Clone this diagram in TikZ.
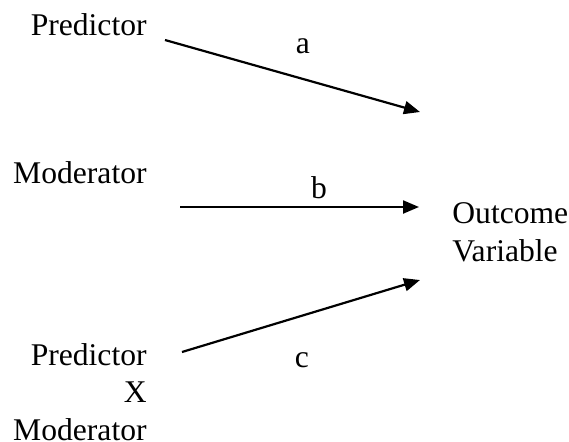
\documentclass[tikz,border=0pt]{standalone}
\usepackage{fontspec}
\setmainfont{Liberation Serif}
\usetikzlibrary{arrows.meta,positioning}
\tikzset{
term/.style={inner sep=0pt,font=\fontsize{15.8}{18.7}\selectfont},
pathlabel/.style={inner sep=0pt,font=\fontsize{15.8}{18.5}\selectfont},
flow/.style={-{Triangle[length=8pt,width=6.5pt]},line width=1.1pt}
}
\begin{document}
\begin{tikzpicture}[x=0.5pt,y=-0.5pt]
\useasboundingbox (0,0) rectangle (569,441);
\node[term,anchor=base east](pred) at (147,35){Predictor};
\node[term,anchor=base east](mod) at (147,183){Moderator};
\node[term,anchor=base east,align=right](inter) at (147,440){Predictor\\X\\Moderator};
\node[term,anchor=base west,align=left](out) at (452,261){Outcome\\Variable};
\coordinate (pa) at (165,40);\coordinate (oa) at (420,112);
\coordinate (mb) at (180,207);\coordinate (ob) at (419,207);
\coordinate (ic) at (182,352);\coordinate (oc) at (420,280);
\draw[flow](pa)--(oa);\draw[flow](mb)--(ob);\draw[flow](ic)--(oc);
\node[pathlabel,anchor=base](a) at (303,53){a};
\node[pathlabel,anchor=base](b) at (319,198){b};
\node[pathlabel,anchor=base](c) at (302,367){c};
\end{tikzpicture}
\end{document}
